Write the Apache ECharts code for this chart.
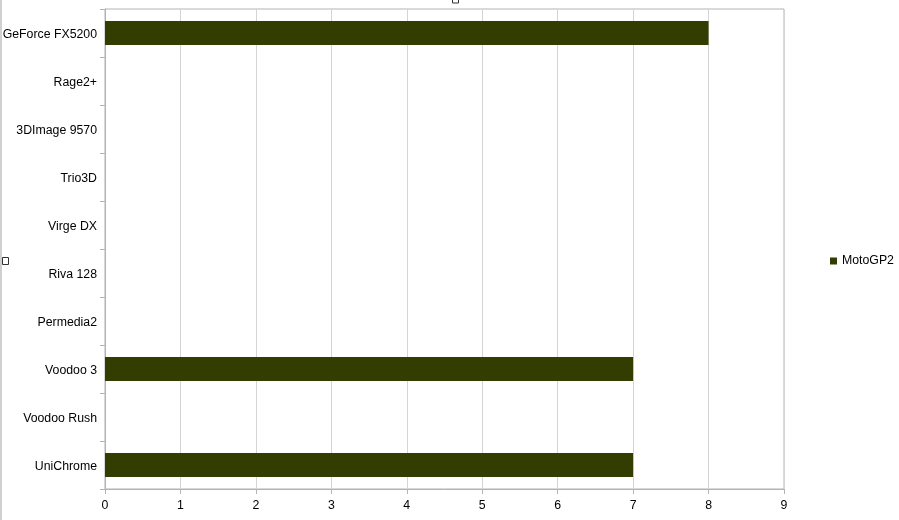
<!DOCTYPE html>
<html>
<head>
<meta charset="utf-8">
<script src="https://cdn.jsdelivr.net/npm/echarts@6/dist/echarts.min.js"></script>
<style>html,body{margin:0;padding:0;background:#fff;}#c{width:899px;height:520px;}</style>
</head>
<body>
<div id="c"></div>
<script>
const categories = ['GeForce FX5200','Rage2+','3DImage 9570','Trio3D','Virge DX','Riva 128','Permedia2','Voodoo 3','Voodoo Rush','UniChrome'];
const motoGP2 = [8, 0, 0, 0, 0, 0, 0, 7, 0, 7];
const seriesName = 'MotoGP2';

const chart = echarts.init(document.getElementById('c'), null, {renderer:'canvas'});
const font = 'Liberation Sans, Arial, sans-serif';
const fs = 12.3;
chart.setOption({
  animation: false,
  textStyle: {fontFamily: font},
  grid: {left: 105, right: 115, top: 9, bottom: 31, containLabel: false, outerBoundsMode: 'none', show: true, borderColor: '#b3b3b3', borderWidth: 1},
  legend: {
    left: 825, top: 250, orient: 'vertical',
    icon: 'rect', itemWidth: 7, itemHeight: 7, itemGap: 5,
    textStyle: {fontFamily: font, fontSize: fs, color: '#000'},
    data: [seriesName]
  },
  xAxis: {
    type: 'value', min: 0, max: 9, interval: 1,
    axisLine: {show: true, lineStyle: {color: '#b3b3b3'}},
    axisTick: {show: true, length: 5, lineStyle: {color: '#b3b3b3'}},
    splitLine: {show: true, lineStyle: {color: '#d4d4d4'}},
    axisLabel: {color: '#000', fontSize: fs, fontFamily: font, margin: 11}
  },
  yAxis: {
    type: 'category', inverse: true, data: categories,
    axisLine: {show: true, lineStyle: {color: '#b3b3b3'}},
    axisTick: {show: true, length: 5, alignWithLabel: false, lineStyle: {color: '#b3b3b3'}},
    axisLabel: {
      color: '#000', fontSize: fs, fontFamily: font, margin: 8,
      formatter: function (v) { return '{a|' + v + '}'; },
      rich: {a: {color: '#000', fontSize: fs, fontFamily: font, padding: [4, 0, 0, 0]}}
    }
  },
  series: [{
    name: seriesName, type: 'bar', data: motoGP2,
    barWidth: '50%',
    itemStyle: {color: '#333d00'}
  }],
  graphic: [
    {type: 'rect', shape: {x: 0, y: 0, width: 2, height: 520}, style: {fill: '#d0d0d0'}, z: 100},
    {type: 'rect', shape: {x: 452.5, y: -3, width: 6, height: 6}, style: {fill: '#fff', stroke: '#333', lineWidth: 1}, z: 100},
    {type: 'rect', shape: {x: 2.5, y: 257.5, width: 6, height: 7}, style: {fill: '#fff', stroke: '#333', lineWidth: 1}, z: 100}
  ]
});
</script>
</body>
</html>
